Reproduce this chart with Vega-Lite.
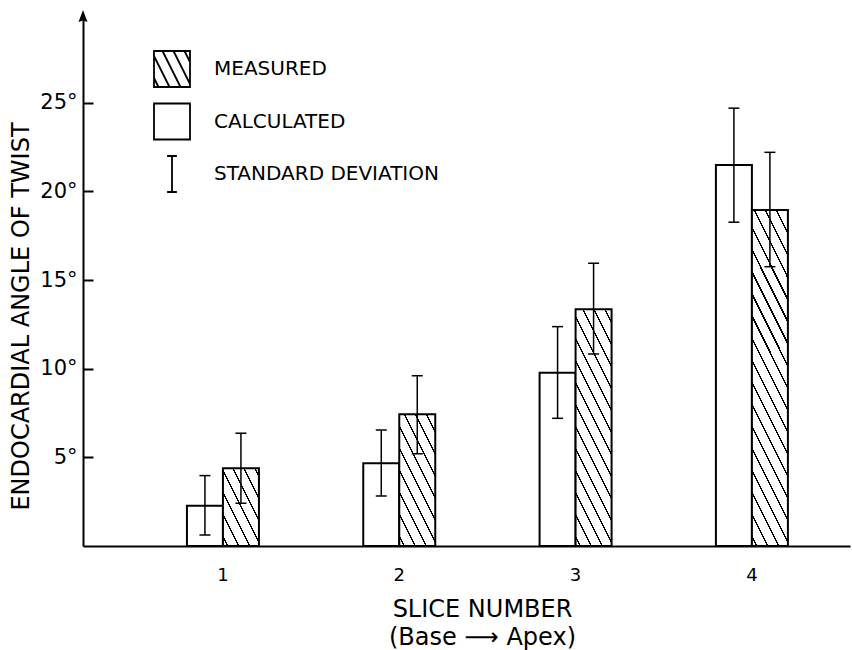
{
  "$schema": "https://vega.github.io/schema/vega-lite/v6.json",
  "width": 767,
  "height": 532,
  "autosize": {"type": "none"},
  "padding": {"left": 83, "top": 14, "right": 2, "bottom": 104},
  "background": "white",
  "config": {
    "view": {"stroke": null},
    "font": "DejaVu Sans",
    "axis": {"domainColor": "black", "domainWidth": 2, "tickColor": "black", "tickWidth": 2, "labelColor": "black", "titleColor": "black", "labelFont": "DejaVu Sans", "titleFont": "DejaVu Sans", "titleFontWeight": "normal", "grid": false}
  },
  "datasets": {
    "bars": [
      {"slice": "1", "series": "CALCULATED", "angle": 2.27, "lo": 0.62, "hi": 3.97},
      {"slice": "1", "series": "MEASURED", "angle": 4.38, "lo": 2.41, "hi": 6.36},
      {"slice": "2", "series": "CALCULATED", "angle": 4.66, "lo": 2.82, "hi": 6.54},
      {"slice": "2", "series": "MEASURED", "angle": 7.43, "lo": 5.2, "hi": 9.6},
      {"slice": "3", "series": "CALCULATED", "angle": 9.77, "lo": 7.2, "hi": 12.37},
      {"slice": "3", "series": "MEASURED", "angle": 13.35, "lo": 10.83, "hi": 15.94},
      {"slice": "4", "series": "CALCULATED", "angle": 21.49, "lo": 18.26, "hi": 24.69},
      {"slice": "4", "series": "MEASURED", "angle": 18.95, "lo": 15.75, "hi": 22.2}
    ],
    "legend": [{"item": "MEASURED"}, {"item": "CALCULATED"}, {"item": "STANDARD DEVIATION"}]
  },
  "resolve": {"scale": {"x": "independent"}},
  "layer": [
    {
      "data": {"name": "bars"},
      "encoding": {
        "x": {"field": "slice", "type": "nominal", "scale": {"domain": ["1", "2", "3", "4"], "paddingInner": 0, "paddingOuter": 0.175, "align": 0.839},
          "axis": {"ticks": false, "labelAngle": 0, "labelFontSize": 18, "labelPadding": 34, "labelBaseline": "alphabetic", "title": ["SLICE NUMBER", "(Base ⟶ Apex)"], "titleFontSize": 24, "titleX": 399, "titleY": 70, "titleBaseline": "alphabetic", "titleLineHeight": 28}},
        "xOffset": {"field": "series", "type": "nominal", "scale": {"domain": ["CALCULATED", "MEASURED"], "range": [52.16, 124.16], "paddingInner": 0, "paddingOuter": 0}},
        "y": {"field": "angle", "type": "quantitative", "scale": {"domain": [0, 30], "nice": false},
          "axis": {"values": [5, 10, 15, 20, 25], "labelExpr": "datum.value + '°'", "labelFontSize": 21, "ticks": false, "labelPadding": 6, "grid": true, "gridColor": "black", "gridWidth": 2, "gridDash": [10, 2000], "gridOpacity": 1, "title": "ENDOCARDIAL ANGLE OF TWIST", "titleFontSize": 24, "titleX": -55, "titleY": 302, "titleBaseline": "alphabetic", "titleAngle": 270, "titleAlign": "center"}}
      },
      "layer": [
        {"transform": [{"filter": "datum.series === 'CALCULATED'"}], "mark": {"type": "bar", "fill": "white", "stroke": "black", "strokeWidth": 2}},
        {"transform": [{"filter": "datum.series === 'MEASURED' && datum.slice === '1'"}], "mark": {"type": "bar", "stroke": "black", "strokeWidth": 2, "fill": {"gradient": "linear", "x1": 0, "y1": 1, "x2": 0.9585, "y2": -0.0383, "stops": [
          {"offset": 0.0533, "color": "#fff"}, {"offset": 0.0533, "color": "#000"}, {"offset": 0.0747, "color": "#000"}, {"offset": 0.0747, "color": "#fff"},
          {"offset": 0.2, "color": "#fff"}, {"offset": 0.2, "color": "#000"}, {"offset": 0.2213, "color": "#000"}, {"offset": 0.2213, "color": "#fff"},
          {"offset": 0.3467, "color": "#fff"}, {"offset": 0.3467, "color": "#000"}, {"offset": 0.368, "color": "#000"}, {"offset": 0.368, "color": "#fff"},
          {"offset": 0.4933, "color": "#fff"}, {"offset": 0.4933, "color": "#000"}, {"offset": 0.5147, "color": "#000"}, {"offset": 0.5147, "color": "#fff"},
          {"offset": 0.64, "color": "#fff"}, {"offset": 0.64, "color": "#000"}, {"offset": 0.6613, "color": "#000"}, {"offset": 0.6613, "color": "#fff"},
          {"offset": 0.7867, "color": "#fff"}, {"offset": 0.7867, "color": "#000"}, {"offset": 0.808, "color": "#000"}, {"offset": 0.808, "color": "#fff"},
          {"offset": 0.9333, "color": "#fff"}, {"offset": 0.9333, "color": "#000"}, {"offset": 0.9547, "color": "#000"}, {"offset": 0.9547, "color": "#fff"}
        ]}}},
        {"transform": [{"filter": "datum.series === 'MEASURED' && datum.slice === '2'"}], "mark": {"type": "bar", "stroke": "black", "strokeWidth": 2, "fill": {"gradient": "linear", "x1": 0, "y1": 1, "x2": 0.6532, "y2": -0.1903, "stops": [
          {"offset": 0.0394, "color": "#fff"}, {"offset": 0.0394, "color": "#000"}, {"offset": 0.0551, "color": "#000"}, {"offset": 0.0551, "color": "#fff"},
          {"offset": 0.1476, "color": "#fff"}, {"offset": 0.1476, "color": "#000"}, {"offset": 0.1634, "color": "#000"}, {"offset": 0.1634, "color": "#fff"},
          {"offset": 0.2559, "color": "#fff"}, {"offset": 0.2559, "color": "#000"}, {"offset": 0.2717, "color": "#000"}, {"offset": 0.2717, "color": "#fff"},
          {"offset": 0.3642, "color": "#fff"}, {"offset": 0.3642, "color": "#000"}, {"offset": 0.3799, "color": "#000"}, {"offset": 0.3799, "color": "#fff"},
          {"offset": 0.4724, "color": "#fff"}, {"offset": 0.4724, "color": "#000"}, {"offset": 0.4882, "color": "#000"}, {"offset": 0.4882, "color": "#fff"},
          {"offset": 0.5807, "color": "#fff"}, {"offset": 0.5807, "color": "#000"}, {"offset": 0.5965, "color": "#000"}, {"offset": 0.5965, "color": "#fff"},
          {"offset": 0.689, "color": "#fff"}, {"offset": 0.689, "color": "#000"}, {"offset": 0.7047, "color": "#000"}, {"offset": 0.7047, "color": "#fff"},
          {"offset": 0.7972, "color": "#fff"}, {"offset": 0.7972, "color": "#000"}, {"offset": 0.813, "color": "#000"}, {"offset": 0.813, "color": "#fff"},
          {"offset": 0.9055, "color": "#fff"}, {"offset": 0.9055, "color": "#000"}, {"offset": 0.9213, "color": "#000"}, {"offset": 0.9213, "color": "#fff"}
        ]}}},
        {"transform": [{"filter": "datum.series === 'MEASURED' && datum.slice === '3'"}], "mark": {"type": "bar", "stroke": "black", "strokeWidth": 2, "fill": {"gradient": "linear", "x1": 0, "y1": 1, "x2": 0.3631, "y2": -0.1937, "stops": [
          {"offset": 0.0259, "color": "#fff"}, {"offset": 0.0259, "color": "#000"}, {"offset": 0.0363, "color": "#000"}, {"offset": 0.0363, "color": "#fff"},
          {"offset": 0.0972, "color": "#fff"}, {"offset": 0.0972, "color": "#000"}, {"offset": 0.1075, "color": "#000"}, {"offset": 0.1075, "color": "#fff"},
          {"offset": 0.1684, "color": "#fff"}, {"offset": 0.1684, "color": "#000"}, {"offset": 0.1788, "color": "#000"}, {"offset": 0.1788, "color": "#fff"},
          {"offset": 0.2397, "color": "#fff"}, {"offset": 0.2397, "color": "#000"}, {"offset": 0.2501, "color": "#000"}, {"offset": 0.2501, "color": "#fff"},
          {"offset": 0.311, "color": "#fff"}, {"offset": 0.311, "color": "#000"}, {"offset": 0.3214, "color": "#000"}, {"offset": 0.3214, "color": "#fff"},
          {"offset": 0.3822, "color": "#fff"}, {"offset": 0.3822, "color": "#000"}, {"offset": 0.3926, "color": "#000"}, {"offset": 0.3926, "color": "#fff"},
          {"offset": 0.4535, "color": "#fff"}, {"offset": 0.4535, "color": "#000"}, {"offset": 0.4639, "color": "#000"}, {"offset": 0.4639, "color": "#fff"},
          {"offset": 0.5248, "color": "#fff"}, {"offset": 0.5248, "color": "#000"}, {"offset": 0.5351, "color": "#000"}, {"offset": 0.5351, "color": "#fff"},
          {"offset": 0.5961, "color": "#fff"}, {"offset": 0.5961, "color": "#000"}, {"offset": 0.6064, "color": "#000"}, {"offset": 0.6064, "color": "#fff"},
          {"offset": 0.6673, "color": "#fff"}, {"offset": 0.6673, "color": "#000"}, {"offset": 0.6777, "color": "#000"}, {"offset": 0.6777, "color": "#fff"},
          {"offset": 0.7386, "color": "#fff"}, {"offset": 0.7386, "color": "#000"}, {"offset": 0.749, "color": "#000"}, {"offset": 0.749, "color": "#fff"},
          {"offset": 0.8098, "color": "#fff"}, {"offset": 0.8098, "color": "#000"}, {"offset": 0.8202, "color": "#000"}, {"offset": 0.8202, "color": "#fff"},
          {"offset": 0.8811, "color": "#fff"}, {"offset": 0.8811, "color": "#000"}, {"offset": 0.8915, "color": "#000"}, {"offset": 0.8915, "color": "#fff"},
          {"offset": 0.9524, "color": "#fff"}, {"offset": 0.9524, "color": "#000"}, {"offset": 0.9627, "color": "#000"}, {"offset": 0.9627, "color": "#fff"}
        ]}}},
        {"transform": [{"filter": "datum.series === 'MEASURED' && datum.slice === '4'"}], "mark": {"type": "bar", "stroke": "black", "strokeWidth": 2, "fill": {"gradient": "linear", "x1": 0, "y1": 1, "x2": 0.2494, "y2": -0.1612, "stops": [
          {"offset": 0.0196, "color": "#fff"}, {"offset": 0.0196, "color": "#000"}, {"offset": 0.0275, "color": "#000"}, {"offset": 0.0275, "color": "#fff"},
          {"offset": 0.0737, "color": "#fff"}, {"offset": 0.0737, "color": "#000"}, {"offset": 0.0815, "color": "#000"}, {"offset": 0.0815, "color": "#fff"},
          {"offset": 0.1277, "color": "#fff"}, {"offset": 0.1277, "color": "#000"}, {"offset": 0.1356, "color": "#000"}, {"offset": 0.1356, "color": "#fff"},
          {"offset": 0.1817, "color": "#fff"}, {"offset": 0.1817, "color": "#000"}, {"offset": 0.1896, "color": "#000"}, {"offset": 0.1896, "color": "#fff"},
          {"offset": 0.2358, "color": "#fff"}, {"offset": 0.2358, "color": "#000"}, {"offset": 0.2436, "color": "#000"}, {"offset": 0.2436, "color": "#fff"},
          {"offset": 0.2898, "color": "#fff"}, {"offset": 0.2898, "color": "#000"}, {"offset": 0.2976, "color": "#000"}, {"offset": 0.2976, "color": "#fff"},
          {"offset": 0.3438, "color": "#fff"}, {"offset": 0.3438, "color": "#000"}, {"offset": 0.3517, "color": "#000"}, {"offset": 0.3517, "color": "#fff"},
          {"offset": 0.3978, "color": "#fff"}, {"offset": 0.3978, "color": "#000"}, {"offset": 0.4057, "color": "#000"}, {"offset": 0.4057, "color": "#fff"},
          {"offset": 0.4519, "color": "#fff"}, {"offset": 0.4519, "color": "#000"}, {"offset": 0.4597, "color": "#000"}, {"offset": 0.4597, "color": "#fff"},
          {"offset": 0.5059, "color": "#fff"}, {"offset": 0.5059, "color": "#000"}, {"offset": 0.5137, "color": "#000"}, {"offset": 0.5137, "color": "#fff"},
          {"offset": 0.5599, "color": "#fff"}, {"offset": 0.5599, "color": "#000"}, {"offset": 0.5678, "color": "#000"}, {"offset": 0.5678, "color": "#fff"},
          {"offset": 0.6139, "color": "#fff"}, {"offset": 0.6139, "color": "#000"}, {"offset": 0.6218, "color": "#000"}, {"offset": 0.6218, "color": "#fff"},
          {"offset": 0.668, "color": "#fff"}, {"offset": 0.668, "color": "#000"}, {"offset": 0.6758, "color": "#000"}, {"offset": 0.6758, "color": "#fff"},
          {"offset": 0.722, "color": "#fff"}, {"offset": 0.722, "color": "#000"}, {"offset": 0.7299, "color": "#000"}, {"offset": 0.7299, "color": "#fff"},
          {"offset": 0.776, "color": "#fff"}, {"offset": 0.776, "color": "#000"}, {"offset": 0.7839, "color": "#000"}, {"offset": 0.7839, "color": "#fff"},
          {"offset": 0.8301, "color": "#fff"}, {"offset": 0.8301, "color": "#000"}, {"offset": 0.8379, "color": "#000"}, {"offset": 0.8379, "color": "#fff"},
          {"offset": 0.8841, "color": "#fff"}, {"offset": 0.8841, "color": "#000"}, {"offset": 0.892, "color": "#000"}, {"offset": 0.892, "color": "#fff"},
          {"offset": 0.9381, "color": "#fff"}, {"offset": 0.9381, "color": "#000"}, {"offset": 0.946, "color": "#000"}, {"offset": 0.946, "color": "#fff"}
        ]}}},
        {"mark": {"type": "rule", "color": "black", "strokeWidth": 1.5}, "encoding": {"y": {"field": "lo", "type": "quantitative"}, "y2": {"field": "hi"}}},
        {"mark": {"type": "tick", "orient": "horizontal", "size": 11, "thickness": 1.5, "color": "black", "opacity": 1}, "encoding": {"y": {"field": "lo", "type": "quantitative"}}},
        {"mark": {"type": "tick", "orient": "horizontal", "size": 11, "thickness": 1.5, "color": "black", "opacity": 1}, "encoding": {"y": {"field": "hi", "type": "quantitative"}}}
      ]
    },
    {
      "data": {"values": [{"tip": "axis arrow"}]},
      "mark": {"type": "point", "shape": "M0,-1L0.75,1L0,0.75L-0.75,1Z", "size": 144, "filled": true, "color": "black", "opacity": 1},
      "encoding": {
        "x": {"datum": 0, "type": "quantitative", "scale": {"domain": [0, 1]}, "axis": null},
        "y": {"datum": 29.89, "type": "quantitative"}
      }
    },
    {
      "data": {"name": "legend"},
      "mark": {"type": "point", "opacity": 0, "size": 1296, "filled": false},
      "encoding": {
        "shape": {"field": "item", "type": "nominal",
          "scale": {"domain": ["MEASURED", "CALCULATED", "STANDARD DEVIATION"], "range": [
            "M-1,-1H1V1H-1Z M-1,0.5L-0.75,1 M-1,-0.722L-0.139,1 M-0.528,-1L0.472,1 M0.083,-1L1,0.834 M0.694,-1L1,-0.388",
            "M-1,-1H1V1H-1Z",
            "M0,-1V1M-0.27,-1H0.27M-0.27,1H0.27"]},
          "legend": {
            "title": null, "orient": "none", "legendX": 70, "legendY": 36, "padding": 0,
            "symbolSize": 1296, "symbolOpacity": 1, "symbolStrokeColor": "black", "symbolStrokeWidth": 1.8, "symbolFillColor": "white",
            "labelFont": "DejaVu Sans", "labelFontSize": 20, "labelColor": "black", "labelOffset": 23, "rowPadding": 8.5, "labelLimit": 300
          }
        }
      }
    }
  ]
}
